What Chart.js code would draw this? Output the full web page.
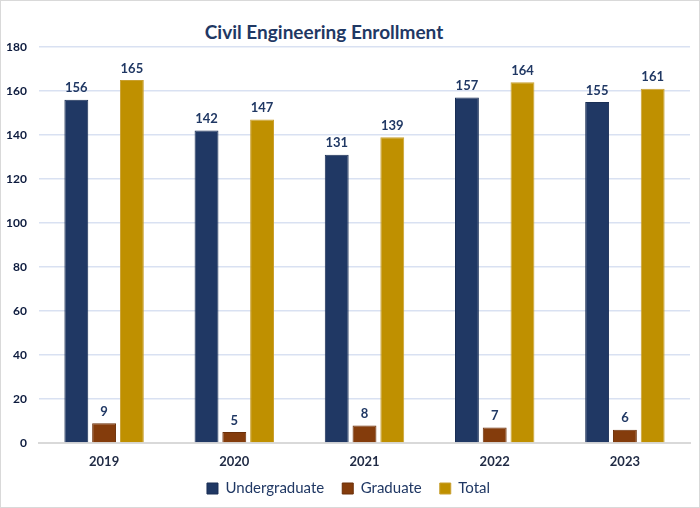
<!DOCTYPE html>
<html>
<head>
<meta charset="utf-8">
<script src="https://cdn.jsdelivr.net/npm/chart.js@4/dist/chart.umd.min.js"></script>
<style>
  html, body { margin: 0; padding: 0; background: #fff; }
  #wrap { position: relative; width: 700px; height: 508px; box-sizing: border-box; border: 1px solid #d9d9d9; }
  #title { position: absolute; top: 19px; left: 0; width: 646px; text-align: center;
           font: bold 19px Lato, sans-serif; color: #1f3864; }
  canvas { position: absolute; left: 0; top: 0; }
</style>
</head>
<body>
<div id="wrap">
  <div id="title">Civil Engineering Enrollment</div>
  <canvas id="chart" width="698" height="506"></canvas>
</div>
<script>
(function(){

    var years = ["2019", "2020", "2021", "2022", "2023"];
    var undergraduate = [156, 142, 131, 157, 155];
    var graduate = [9, 5, 8, 7, 6];
    var total = [165, 147, 139, 164, 161];
    var yTicks = [0, 20, 40, 60, 80, 100, 120, 140, 160, 180];

    var navy = "#203864";

    // draws the value above each bar
    var _valueLabels = {
        id: "valueLabels",
        afterDatasetsDraw: function(chart){
            let ctx = chart.ctx;
            ctx.save();
            ctx.font = "bold 13px Lato, sans-serif";
            ctx.fillStyle = navy;
            ctx.textAlign = "center";
            ctx.textBaseline = "bottom";
            chart.data.datasets.forEach(function(ds, dIndex){
                let meta = chart.getDatasetMeta(dIndex);
                meta.data.forEach(function(bar, i){
                    ctx.fillText(ds.data[i], bar.x, bar.y - 5);
                });
            });
            ctx.restore();
        }
    };

    // legend keeps wide gaps between items but sits closer to the axis
    var _tightLegend = {
        id: "tightLegend",
        beforeInit: function(chart){
            let legend = chart.legend;
            let fit = legend.fit;
            legend.fit = function(){
                fit.bind(this)();
                this.height = 34;
            };
            let draw = legend.draw;
            legend.draw = function(){
                this.ctx.save();
                this.ctx.translate(0, -8);
                draw.bind(this)();
                this.ctx.restore();
            };
        }
    };

    function _drawChart(){
        new Chart(document.getElementById("chart").getContext("2d"), {
            type: "bar",
            data: {
                labels: years,
                datasets: [
                    { label: "Undergraduate", data: undergraduate, backgroundColor: navy, borderColor: "#1a2f55", borderWidth: 1 },
                    { label: "Graduate", data: graduate, backgroundColor: "#843c0c", borderColor: "#6b2f08", borderWidth: 1 },
                    { label: "Total", data: total, backgroundColor: "#bf9000", borderColor: "#c9a030", borderWidth: 1 }
                ]
            },
            options: {
                responsive: false,
                animation: false,
                layout: { padding: { left: 6, right: 9, top: 46, bottom: 2 } },
                datasets: { bar: { categoryPercentage: 0.64, barPercentage: 0.86 } },
                plugins: {
                    title: { display: false },
                    tooltip: { enabled: false },
                    legend: {
                        position: "bottom",
                        labels: {
                            boxWidth: 11, boxHeight: 11, padding: 18,
                            color: navy,
                            font: { family: "Lato, sans-serif", size: 15 }
                        }
                    }
                },
                scales: {
                    x: {
                        grid: { display: false, drawTicks: false },
                        border: { color: "#d9d9d9", width: 2 },
                        afterFit: function(axis){ axis.height = 28; },
                        ticks: { color: "#1f2a44", padding: 11, font: { family: "Lato, sans-serif", size: 13, weight: "bold" } }
                    },
                    y: {
                        min: 0, max: 180,
                        afterBuildTicks: function(axis){ axis.ticks = yTicks.map(function(v){ return { value: v }; }); },
                        afterFit: function(axis){ axis.width = 32; },
                        grid: { color: "#d9e1f2", lineWidth: 1.5, drawTicks: false },
                        border: { display: false },
                        ticks: { color: "#0d1b3e", padding: 12, font: { family: "Lato, sans-serif", size: 12, weight: "bold" } }
                    }
                }
            },
            plugins: [_valueLabels, _tightLegend]
        });
    }

    window.onload = function(){
        _drawChart();
    };

})();
</script>
</body>
</html>
